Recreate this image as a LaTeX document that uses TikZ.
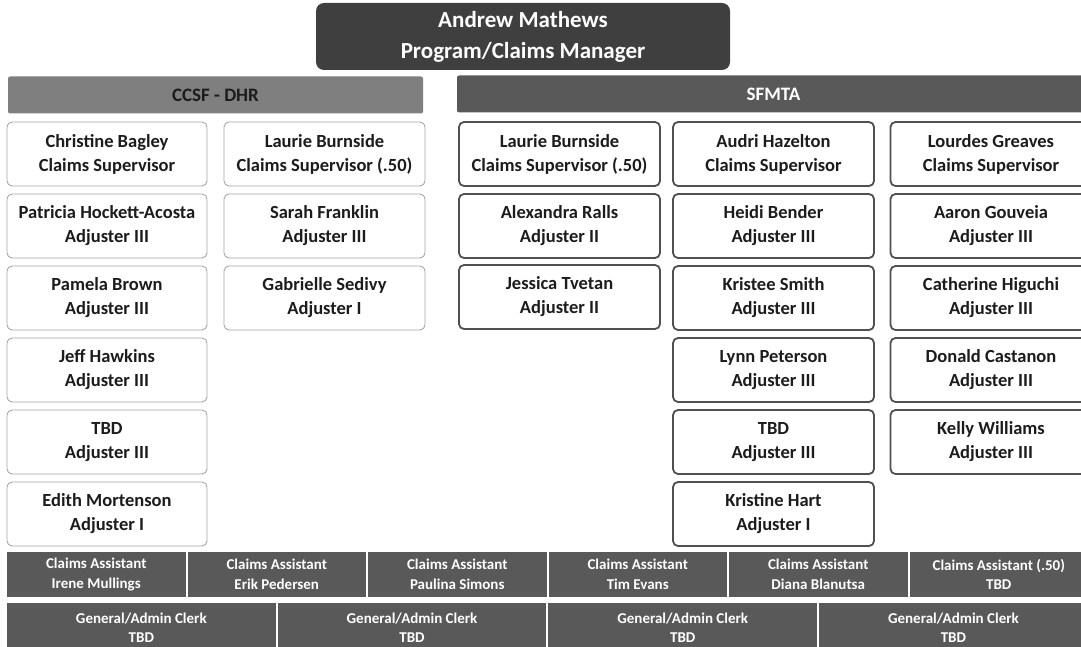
\documentclass[tikz,border=0pt]{standalone}
\usepackage{fontspec}
\setmainfont{Carlito}
\usetikzlibrary{positioning}

\definecolor{bossgray}{HTML}{3F3F3F}
\definecolor{ccsfgray}{HTML}{7F7F7F}
\definecolor{mtagray}{HTML}{595959}
\definecolor{staffgray}{HTML}{595959}
\definecolor{ccsfline}{HTML}{A6A6A6}
\definecolor{mtaline}{HTML}{505050}
\definecolor{ink}{HTML}{1C1C1C}

\tikzset{
  boss/.style={fill=bossgray, rounded corners=8pt, minimum width=414pt, minimum height=67pt, inner sep=0pt,
    text=white, align=center, font=\bfseries\fontsize{23}{31}\selectfont},
  dept/.style={rounded corners=2pt, minimum height=37pt, inner sep=0pt, align=center,
    font=\bfseries\fontsize{19}{23}\selectfont},
  ccsf/.style={draw=ccsfline, line width=0.9pt, rounded corners=5pt, fill=white, minimum width=200pt,
    minimum height=64pt, inner sep=0pt, outer sep=0pt, text=ink, align=center,
    font=\bfseries\fontsize{18.5}{24}\selectfont},
  mta/.style={ccsf, draw=mtaline, line width=1.8pt, minimum width=201pt},
  assist/.style={fill=staffgray, minimum width=178.5pt, minimum height=45pt, inner sep=0pt, outer sep=0pt,
    text=white, align=center, font=\bfseries\fontsize{15}{19.5}\selectfont},
  clerk/.style={assist, minimum width=268.7pt, minimum height=49pt}
}

\begin{document}
\begin{tikzpicture}[x=1pt, y=-1pt, node distance=8pt]
\useasboundingbox (0,0) rectangle (1081,647);
\clip (0,0) rectangle (1081,647);

% manager and the two divisions
\node[boss] (boss) at (523,36.5) {Andrew Mathews\\Program/Claims Manager};
\node[dept, fill=ccsfgray, text=ink, minimum width=415pt] (dhr) at (215.5,95) {CCSF - DHR};
\node[dept, fill=mtagray, text=white, minimum width=633pt] (sfmta) at (773.5,94) {SFMTA};

% CCSF - DHR, first column
\node[ccsf] (bagley) at (107,154) {Christine Bagley\\Claims Supervisor};
\node[ccsf, below=of bagley] (hockett) {Patricia Hockett-Acosta\\Adjuster III};
\node[ccsf, below=of hockett] (brown) {Pamela Brown\\Adjuster III};
\node[ccsf, below=of brown] (hawkins) {Jeff Hawkins\\Adjuster III};
\node[ccsf, below=of hawkins] (dhrtbd) {TBD\\Adjuster III};
\node[ccsf, below=of dhrtbd] (mortenson) {Edith Mortenson\\Adjuster I};

% CCSF - DHR, second column
\node[ccsf, minimum width=201pt] (burnsideA) at (324.5,154) {Laurie Burnside\\Claims Supervisor (.50)};
\node[ccsf, minimum width=201pt, below=of burnsideA] (franklin) {Sarah Franklin\\Adjuster III};
\node[ccsf, minimum width=201pt, below=of franklin] (sedivy) {Gabrielle Sedivy\\Adjuster I};

% SFMTA, first column
\node[mta] (burnsideB) at (559.5,154) {Laurie Burnside\\Claims Supervisor (.50)};
\node[mta, below=of burnsideB] (ralls) {Alexandra Ralls\\Adjuster II};
\node[mta, below=7pt of ralls] (tvetan) {Jessica Tvetan\\Adjuster II};

% SFMTA, second column
\node[mta] (hazelton) at (773.5,154) {Audri Hazelton\\Claims Supervisor};
\node[mta, below=of hazelton] (bender) {Heidi Bender\\Adjuster III};
\node[mta, below=of bender] (smith) {Kristee Smith\\Adjuster III};
\node[mta, below=of smith] (peterson) {Lynn Peterson\\Adjuster III};
\node[mta, below=of peterson] (mtatbd) {TBD\\Adjuster III};
\node[mta, below=of mtatbd] (hart) {Kristine Hart\\Adjuster I};

% SFMTA, third column
\node[mta] (greaves) at (991,154) {Lourdes Greaves\\Claims Supervisor};
\node[mta, below=of greaves] (gouveia) {Aaron Gouveia\\Adjuster III};
\node[mta, below=of gouveia] (higuchi) {Catherine Higuchi\\Adjuster III};
\node[mta, below=of higuchi] (castanon) {Donald Castanon\\Adjuster III};
\node[mta, below=of castanon] (williams) {Kelly Williams\\Adjuster III};

% shared staff
\node[assist] (mullings) at (96.25,574.5) {Claims Assistant\\Irene Mullings};
\node[assist, right=2pt of mullings] (pedersen) {Claims Assistant\\Erik Pedersen};
\node[assist, right=2pt of pedersen] (simons) {Claims Assistant\\Paulina Simons};
\node[assist, right=2pt of simons] (evans) {Claims Assistant\\Tim Evans};
\node[assist, right=2pt of evans] (blanutsa) {Claims Assistant\\Diana Blanutsa};
\node[assist, right=2pt of blanutsa] (assisttbd) {Claims Assistant (.50)\\TBD};

\node[clerk] (clerkA) at (141.35,627.5) {General/Admin Clerk\\TBD};
\node[clerk, right=2pt of clerkA] (clerkB) {General/Admin Clerk\\TBD};
\node[clerk, right=2pt of clerkB] (clerkC) {General/Admin Clerk\\TBD};
\node[clerk, right=2pt of clerkC] (clerkD) {General/Admin Clerk\\TBD};
\end{tikzpicture}
\end{document}
